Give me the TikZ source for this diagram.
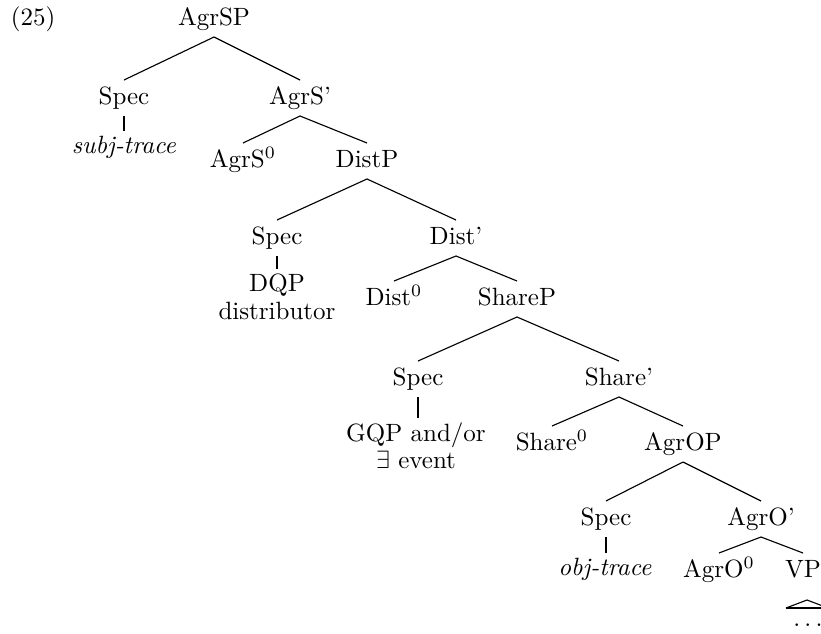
\documentclass[tikz,border=0pt]{standalone}
\begin{document}
\begin{tikzpicture}[x=0.4pt,y=-0.4pt,
  lab/.style={inner xsep=1pt,inner ysep=2.5pt,text height=7pt,text depth=2pt},
  plain/.style={inner xsep=0pt,inner ysep=1.8pt},
  br/.style={line width=0.45pt},
  spec/.style={line width=0.95pt}]
\useasboundingbox (0,0) rectangle (821,634);
% labels
\node[plain] (num) at (33,19) {(25)};
\node[lab] (agrsp) at (214,19) {AgrSP};
\node[lab] (spec1) at (124,98) {Spec};
\node[lab] (agrsb) at (300,98) {AgrS'};
\node[plain] (subj) at (124,147) {\textit{subj-trace}};
\node[lab] (agrs0) at (243,161) {AgrS$^0$};
\node[lab] (distp) at (367,161) {DistP};
\node[lab] (spec2) at (277,238) {Spec};
\node[lab] (distb) at (456,238) {Dist'};
\node[plain,align=center] (dqp) at (277,297) {DQP\\[-1pt]distributor};
\node[lab] (dist0) at (394,299) {Dist$^0$};
\node[lab] (sharep) at (517,299) {ShareP};
\node[lab] (spec3) at (418,379) {Spec};
\node[lab] (shareb) at (619,379) {Share'};
\node[plain,align=center] (gqp) at (416,446) {GQP and/or\\[-1pt]$\exists$ event};
\node[lab] (share0) at (552,444) {Share$^0$};
\node[lab] (agrop) at (683,444) {AgrOP};
\node[lab] (spec4) at (606,519) {Spec};
\node[lab] (agrob) at (761,519) {AgrO'};
\node[plain] (obj) at (605,569) {\textit{obj-trace}};
\node[lab] (agro0) at (719,571) {AgrO$^0$};
\node[lab] (vp) at (803,571) {VP};
\node[plain] (dots) at (808,625) {$\ldots$};
% branches
\draw[br] (agrsp.south) -- (spec1.north);
\draw[br] (agrsp.south) -- (agrsb.north);
\draw[br] (agrsb.south) -- (agrs0.north);
\draw[br] (agrsb.south) -- (distp.north);
\draw[br] (distp.south) -- (spec2.north);
\draw[br] (distp.south) -- (distb.north);
\draw[br] (distb.south) -- (dist0.north);
\draw[br] (distb.south) -- (sharep.north);
\draw[br] (sharep.south) -- (spec3.north);
\draw[br] (sharep.south) -- (shareb.north);
\draw[br] (shareb.south) -- (share0.north);
\draw[br] (shareb.south) -- (agrop.north);
\draw[br] (agrop.south) -- (spec4.north);
\draw[br] (agrop.south) -- (agrob.north);
\draw[br] (agrob.south) -- (agro0.north);
\draw[br] (agrob.south) -- (vp.north);
% spec links
\draw[spec] (spec1.south) -- (spec1.south |- subj.north);
\draw[spec] (spec2.south) -- (spec2.south |- dqp.north);
\draw[spec] (spec3.south) -- (spec3.south |- gqp.north);
\draw[spec] (spec4.south) -- (spec4.south |- obj.north);
% triangle
\coordinate (apex) at (807,600);
\draw[br] (apex) -- ++(-21,8) coordinate (bl);
\draw[br] (apex) -- ++(21,8) coordinate (brr);
\draw[line width=1pt] (bl) -- (brr);
\end{tikzpicture}
\end{document}
